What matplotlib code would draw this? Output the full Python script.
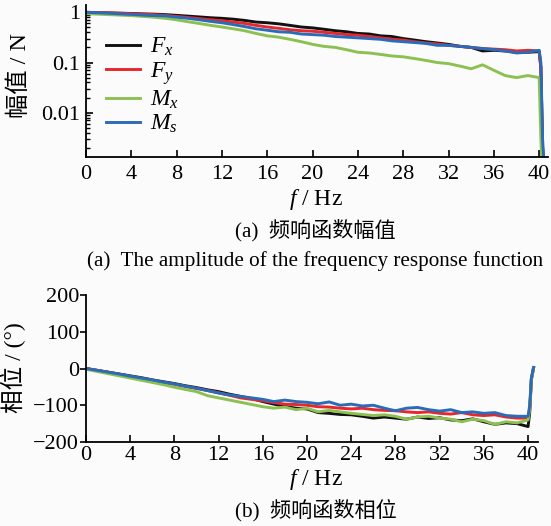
import numpy as np
import matplotlib
matplotlib.use("Agg")
import matplotlib.pyplot as plt
from matplotlib.ticker import LogLocator, NullFormatter

plt.rcParams['font.family'] = ['Liberation Serif', 'Noto Sans CJK SC']
plt.rcParams['mathtext.fontset'] = 'custom'
plt.rcParams['mathtext.rm'] = 'Liberation Serif'
plt.rcParams['mathtext.it'] = 'Liberation Serif:italic'
plt.rcParams['axes.unicode_minus'] = True

# ---------------- data ----------------
freq = list(range(0, 41)) + [40.15, 40.3, 40.5]

amp_fx = [1.00, 0.99, 0.97, 0.96, 0.95, 0.93, 0.92, 0.90, 0.87, 0.84,
          0.81, 0.78, 0.76, 0.73, 0.69, 0.64, 0.62, 0.59, 0.55, 0.51,
          0.49, 0.46, 0.43, 0.41, 0.38, 0.37, 0.34, 0.33, 0.30, 0.28,
          0.26, 0.245, 0.23, 0.21, 0.20, 0.17, 0.175, 0.17, 0.16, 0.16,
          0.165, 0.08, 0.002, 0.0005]
amp_fy = [1.00, 0.99, 0.98, 0.96, 0.94, 0.92, 0.90, 0.87, 0.83, 0.79,
          0.75, 0.71, 0.68, 0.64, 0.60, 0.55, 0.51, 0.48, 0.45, 0.43,
          0.42, 0.40, 0.38, 0.36, 0.35, 0.33, 0.31, 0.29, 0.28, 0.26,
          0.245, 0.235, 0.22, 0.21, 0.20, 0.19, 0.185, 0.18, 0.17, 0.175,
          0.17, 0.08, 0.002, 0.0005]
amp_mx = [0.94, 0.92, 0.90, 0.88, 0.86, 0.83, 0.80, 0.76, 0.71, 0.65,
          0.60, 0.55, 0.51, 0.47, 0.43, 0.38, 0.34, 0.32, 0.29, 0.26,
          0.23, 0.21, 0.20, 0.18, 0.16, 0.155, 0.145, 0.135, 0.13, 0.12,
          0.11, 0.10, 0.095, 0.085, 0.075, 0.09, 0.07, 0.055, 0.05, 0.055,
          0.05, 0.003, 0.0005, 0.0003]
amp_ms = [1.00, 0.98, 0.96, 0.93, 0.91, 0.88, 0.86, 0.85, 0.80, 0.76,
          0.71, 0.66, 0.62, 0.57, 0.52, 0.47, 0.44, 0.41, 0.40, 0.37,
          0.36, 0.35, 0.33, 0.32, 0.31, 0.30, 0.29, 0.27, 0.26, 0.25,
          0.24, 0.22, 0.22, 0.21, 0.20, 0.19, 0.18, 0.17, 0.155, 0.16,
          0.175, 0.10, 0.003, 0.0005]

ph_fx = [0, -5, -10, -15, -20, -25, -31, -36, -41, -47,
         -52, -58, -63, -70, -76, -82, -90, -97, -103, -108,
         -110, -120, -122, -125, -126, -130, -135, -132, -135, -138,
         -132, -136, -134, -140, -142, -137, -145, -152, -148, -150,
         -158, -120, -30, 2]
ph_fy = [0, -5, -10, -16, -21, -27, -32, -38, -43, -49,
         -54, -60, -66, -73, -80, -84, -88, -93, -97, -98,
         -100, -104, -105, -108, -110, -108, -112, -114, -115, -118,
         -120, -118, -122, -124, -120, -126, -128, -126, -132, -135,
         -135, -110, -30, 2]
ph_mx = [-2, -8, -14, -20, -26, -32, -38, -44, -51, -57,
         -63, -74, -80, -86, -92, -98, -104, -108, -105, -112,
         -108, -118, -114, -118, -122, -125, -128, -126, -130, -138,
         -132, -130, -135, -138, -145, -138, -142, -152, -145, -148,
         -140, -110, -30, 2]
ph_ms = [0, -5, -10, -15, -21, -26, -31, -37, -42, -48,
         -54, -60, -67, -72, -76, -80, -84, -90, -86, -90,
         -92, -96, -91, -100, -97, -102, -100, -108, -115, -108,
         -106, -112, -116, -112, -120, -118, -122, -120, -128, -130,
         -130, -100, -25, 3]

labels = [r'$F_x$', r'$F_y$', r'$M_x$', r'$M_s$']
colors = ['#111111', '#e8262b', '#8cc152', '#2b6cb8']

x_ticks = [0, 4, 8, 12, 16, 20, 24, 28, 32, 36, 40]
amp_ticks = [1, 0.1, 0.01]
amp_ticklabels = ['1', '0.1', '0.01']
ph_ticks = [-200, -100, 0, 100, 200]

# ---------------- figure ----------------
W, H = 551, 526
bg = '#fbfbfb'
fig = plt.figure(figsize=(W / 100, H / 100), dpi=100, facecolor=bg)

def fx(px):
    return px / W

def fy(py):
    return 1 - py / H

lw = 2.1
fs = 16

# top axes (amplitude)
ax1 = fig.add_axes([fx(86), fy(157), fx(548 - 86), (157 - 5) / H], facecolor=bg)
amps = [amp_fx, amp_fy, amp_mx, amp_ms]
for a, lab, c in zip(amps, labels, colors):
    ax1.plot(freq, a, color=c, lw=lw, label=lab, solid_joinstyle='round')
ax1.set_yscale('log')
ax1.set_ylim(0.00131, 1.40)
ax1.set_xlim(0, 40.78)
ax1.set_xticks(x_ticks)
ax1.set_yticks(amp_ticks)
ax1.set_yticklabels(amp_ticklabels)
ax1.yaxis.set_minor_locator(LogLocator(base=10, subs=np.arange(2, 10)))
ax1.yaxis.set_minor_formatter(NullFormatter())
for s in ['top', 'right']:
    ax1.spines[s].set_visible(False)
for s in ['left', 'bottom']:
    ax1.spines[s].set_linewidth(1.3)
ax1.tick_params(axis='x', which='major', direction='in', length=5, width=1.2,
                labelsize=fs, pad=6)
ax1.tick_params(axis='y', which='major', direction='in', length=5, width=1.2,
                labelsize=fs, pad=4)
ax1.tick_params(axis='y', which='minor', direction='in', length=3, width=1.0)
ax1.set_ylabel('幅值 / N', fontsize=17.5)
ax1.yaxis.set_label_coords(fx(31), fy(75), transform=fig.transFigure)
leg = ax1.legend(loc='upper left', bbox_to_anchor=(fx(106), fy(36)),
                 bbox_transform=fig.transFigure, frameon=False, fontsize=17,
                 handlelength=1.45, handletextpad=0.4, labelspacing=0.08,
                 borderpad=0, borderaxespad=0)

fig.text(fx(316), fy(199), r'$f$ / Hz', ha='center', va='center', fontsize=17)
fig.text(fx(315), fy(230), '(a)  频响函数幅值', ha='center', va='center', fontsize=15.2)
fig.text(fx(315), fy(261), '(a)  The amplitude of the frequency response function',
         ha='center', va='center', fontsize=15.2)

# bottom axes (phase)
ax2 = fig.add_axes([fx(86), fy(442), fx(538 - 86), (442 - 295) / H], facecolor=bg)
phs = [ph_fx, ph_fy, ph_mx, ph_ms]
for p, lab, c in zip(phs, labels, colors):
    ax2.plot(freq, p, color=c, lw=lw, label=lab, solid_joinstyle='round')
ax2.set_ylim(-200, 200)
ax2.set_xlim(0, 40.9)
ax2.set_xticks(x_ticks)
ax2.set_yticks(ph_ticks)
for s in ['top', 'right']:
    ax2.spines[s].set_visible(False)
for s in ['left', 'bottom']:
    ax2.spines[s].set_linewidth(1.3)
ax2.tick_params(axis='x', which='major', direction='in', length=5, width=1.2,
                labelsize=fs, pad=3)
ax2.tick_params(axis='y', which='major', direction='out', length=4, width=1.2,
                labelsize=fs, pad=1)
ax2.set_ylabel('相位 / (°)', fontsize=17)
ax2.yaxis.set_label_coords(fx(26), fy(368), transform=fig.transFigure)

fig.text(fx(316), fy(480), r'$f$ / Hz', ha='center', va='center', fontsize=17)
fig.text(fx(316), fy(510), '(b)  频响函数相位', ha='center', va='center', fontsize=15.2)

fig.savefig('out.png', dpi=100, facecolor=bg)
